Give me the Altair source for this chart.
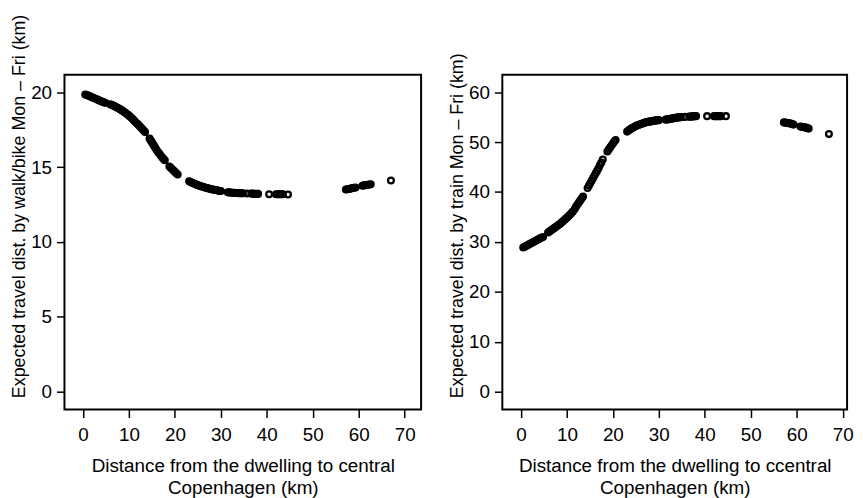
import altair as alt
import pandas as pd

# Distance from dwelling to central Copenhagen (km), one value per dwelling
dist_a = [0.5, 0.8, 1.1, 1.4, 1.7, 2.0, 2.3, 2.6, 2.9, 3.2, 3.5, 3.8, 4.1, 4.4, 4.8]
dist_b = [5.9, 6.2, 6.5, 6.8, 7.1, 7.4, 7.7, 8.0, 8.3, 8.6, 8.9, 9.2, 9.5, 9.8, 10.1,
          10.4, 10.7, 11.0, 11.3, 11.7, 12.0, 12.3, 12.6, 12.9, 13.2, 13.5]
dist_c = [14.5, 14.8, 15.1, 15.4, 15.7, 16.0, 16.3, 16.6, 16.9, 17.2, 17.5, 17.8]
dist_d = [18.8, 19.1, 19.4, 19.7, 20.0, 20.3, 20.6]
dist_e = [23.1, 23.4, 23.7, 24.0, 24.3, 24.6, 24.9, 25.2, 25.5, 25.8, 26.1, 26.4,
          26.7, 27.0, 27.3, 27.6, 27.9, 28.2, 28.5, 28.8, 29.1, 29.4, 29.7, 30.0]
dist_f = [31.5, 31.8, 32.1, 32.4, 32.7, 33.0, 33.3, 33.6, 33.9, 34.2, 34.5, 34.8,
          35.7, 36.6, 36.9, 37.2, 37.5, 37.8, 38.1]
dist_g = [40.5, 42.0, 42.3, 42.6, 42.9, 43.2, 43.5, 44.6]
dist_h = [57.2, 57.5, 57.8, 58.1, 58.4, 58.7, 59.0, 59.3]
dist_i = [60.8, 61.1, 61.4, 61.7, 62.0, 62.3, 62.6]
dist_j = [67.0]

# Expected travel distance by walk/bike Mon - Fri (km)
walk_a = [19.85, 19.82, 19.78, 19.74, 19.70, 19.66, 19.62, 19.58, 19.54, 19.50, 19.46,
          19.42, 19.38, 19.34, 19.29]
walk_b = [19.20, 19.16, 19.12, 19.08, 19.03, 18.98, 18.93, 18.88, 18.82, 18.76, 18.70,
          18.63, 18.56, 18.49, 18.41, 18.33, 18.24, 18.15, 18.05, 17.93, 17.84, 17.75,
          17.65, 17.55, 17.45, 17.35]
walk_c = [16.90, 16.75, 16.60, 16.45, 16.30, 16.15, 16.00, 15.90, 15.78, 15.66, 15.56, 15.46]
walk_d = [15.04, 14.95, 14.86, 14.77, 14.68, 14.59, 14.50]
walk_e = [14.05, 14.00, 13.96, 13.92, 13.88, 13.84, 13.80, 13.77, 13.74, 13.71, 13.68,
          13.65, 13.62, 13.60, 13.57, 13.55, 13.53, 13.51, 13.49, 13.47, 13.45, 13.43,
          13.41, 13.40]
walk_f = [13.32, 13.31, 13.30, 13.29, 13.29, 13.28, 13.27, 13.27, 13.26, 13.26, 13.25,
          13.25, 13.24, 13.23, 13.23, 13.22, 13.22, 13.21, 13.21]
walk_g = [13.18, 13.19, 13.19, 13.18, 13.18, 13.18, 13.18, 13.17]
walk_h = [13.50, 13.52, 13.54, 13.56, 13.58, 13.60, 13.62, 13.64]
walk_i = [13.76, 13.78, 13.79, 13.80, 13.82, 13.84, 13.86]
walk_j = [14.10]

# Expected travel distance by train Mon - Fri (km)
train_a = [28.9, 29.05, 29.2, 29.35, 29.5, 29.65, 29.8, 29.95, 30.1, 30.25, 30.4, 30.55,
           30.7, 30.85, 31.0]
train_b = [31.9, 32.1, 32.3, 32.5, 32.7, 32.9, 33.1, 33.3, 33.5, 33.7, 33.95, 34.2, 34.45,
           34.7, 34.95, 35.2, 35.5, 35.8, 36.1, 36.6, 37.1, 37.5, 37.9, 38.3, 38.7, 39.1]
train_c = [40.8, 41.3, 41.8, 42.3, 42.8, 43.3, 43.8, 44.3, 44.8, 45.4, 45.9, 46.5]
train_d = [48.1, 48.5, 48.9, 49.3, 49.7, 50.1, 50.4]
train_e = [52.1, 52.3, 52.5, 52.7, 52.85, 53.0, 53.15, 53.3, 53.4, 53.5, 53.6, 53.7, 53.8,
           53.9, 54.0, 54.05, 54.1, 54.15, 54.2, 54.25, 54.3, 54.35, 54.4, 54.4]
train_f = [54.5, 54.55, 54.6, 54.65, 54.7, 54.75, 54.8, 54.85, 54.9, 54.95, 55.0, 55.0,
           55.05, 55.1, 55.1, 55.15, 55.15, 55.2, 55.2]
train_g = [55.2, 55.2, 55.2, 55.2, 55.2, 55.2, 55.2, 55.2]
train_h = [53.95, 53.9, 53.85, 53.8, 53.75, 53.7, 53.6, 53.5]
train_i = [53.1, 53.05, 53.0, 52.95, 52.9, 52.8, 52.7]
train_j = [51.6]

x_ticks = [0, 10, 20, 30, 40, 50, 60, 70]
walk_ticks = [0, 5, 10, 15, 20]
train_ticks = [0, 10, 20, 30, 40, 50, 60]

dist_km = dist_a + dist_b + dist_c + dist_d + dist_e + dist_f + dist_g + dist_h + dist_i + dist_j
walk_km = walk_a + walk_b + walk_c + walk_d + walk_e + walk_f + walk_g + walk_h + walk_i + walk_j
train_km = train_a + train_b + train_c + train_d + train_e + train_f + train_g + train_h + train_i + train_j

df = pd.DataFrame({"dist": dist_km, "walk": walk_km, "train": train_km})

FONT = "Liberation Sans"
FS = 19


def panel(ycol, ytitle, xtitle, xdom, ydom, yvals, w):
    return alt.Chart(df).mark_point(
        filled=False, color="black", size=34, strokeWidth=2.3, opacity=1
    ).encode(
        x=alt.X("dist:Q",
                scale=alt.Scale(domain=xdom, nice=False, zero=False),
                axis=alt.Axis(values=x_ticks, title=xtitle)),
        y=alt.Y(f"{ycol}:Q",
                scale=alt.Scale(domain=ydom, nice=False, zero=False),
                axis=alt.Axis(values=yvals, title=ytitle,
                              titleAlign="left", titleY=326)),
    ).properties(width=w, height=338)


left = panel("walk", "Expected travel dist. by walk/bike Mon – Fri (km)",
             ["Distance from the dwelling to central", "Copenhagen (km)"],
             [-4.03, 73.56], [-1.19, 21.17], walk_ticks, 360)
right = panel("train", "Expected travel dist. by train Mon – Fri (km)",
              ["Distance from the dwelling to ccentral", "Copenhagen (km)"],
              [-4.05, 70.95], [-3.57, 63.5], train_ticks, 348)

chart = alt.hconcat(left, right, spacing=25).properties(
    padding={"left": 1, "top": 2, "right": 0, "bottom": 0}
).configure_view(
    stroke="black", strokeWidth=2
).configure_axis(
    domain=False, grid=False,
    tickColor="black", tickWidth=1.5, tickSize=8,
    labelFont=FONT, labelFontSize=FS, labelColor="black",
    titleFont=FONT, titleFontSize=FS, titleColor="black", titleFontWeight="normal",
    titleLineHeight=22,
).configure_axisX(
    labelPadding=8, titlePadding=13,
).configure_axisY(
    labelPadding=5, titlePadding=2, titleFontSize=18,
)

chart.save("out.html", embed_options={"renderer": "svg", "actions": False})
